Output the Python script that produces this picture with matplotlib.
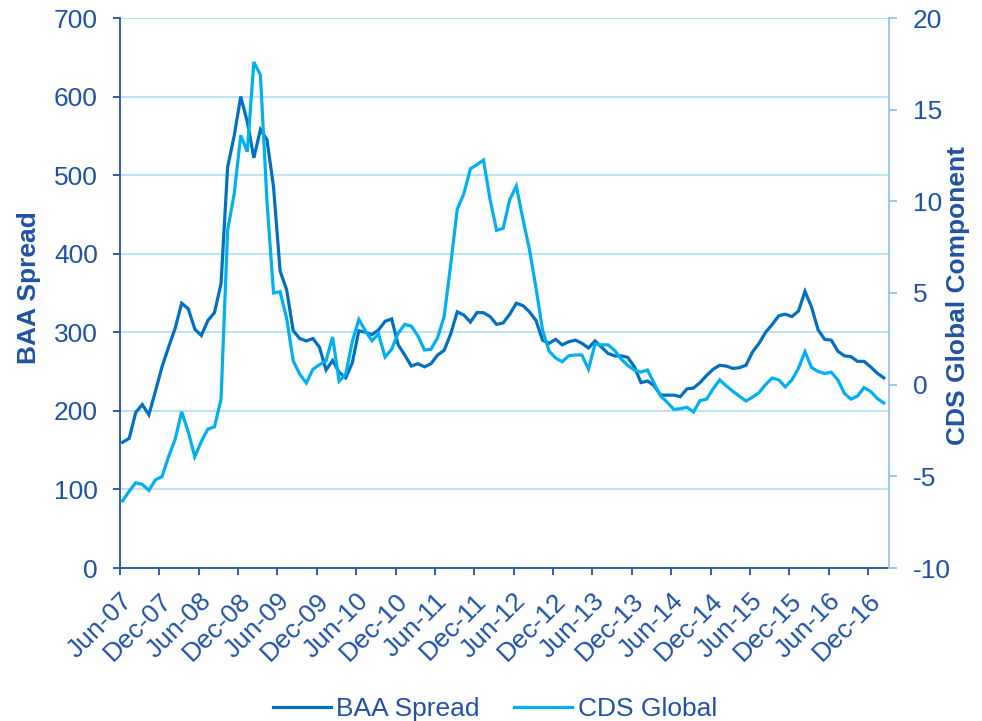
import matplotlib
matplotlib.use('Agg')
import matplotlib.pyplot as plt
import numpy as np

# ---- data (monthly, Jun-07 .. Feb-17) ----
tick_labels = ['Jun-07', 'Dec-07', 'Jun-08', 'Dec-08', 'Jun-09', 'Dec-09',
               'Jun-10', 'Dec-10', 'Jun-11', 'Dec-11', 'Jun-12', 'Dec-12',
               'Jun-13', 'Dec-13', 'Jun-14', 'Dec-14', 'Jun-15', 'Dec-15',
               'Jun-16', 'Dec-16']

baa_spread = [160, 165, 198, 208, 195, 225, 256, 281, 305, 337,
              330, 304, 296, 315, 325, 362, 510, 550, 600, 568,
              522, 558, 545, 485, 378, 354, 302, 292, 289, 292,
              281, 252, 264, 249, 242, 261, 302, 300, 297, 303,
              314, 317, 284, 271, 257, 260, 256, 260, 271, 277,
              298, 326, 322, 313, 325, 325, 320, 310, 312, 323,
              337, 334, 326, 315, 290, 286, 291, 284, 288, 290,
              286, 280, 289, 281, 273, 270, 270, 268, 256, 236,
              238, 232, 220, 220, 220, 218, 228, 229, 236, 245,
              253, 258, 257, 254, 255, 258, 275, 286, 300, 310,
              321, 323, 320, 327, 352, 332, 303, 291, 290, 276,
              270, 269, 263, 263, 256, 248, 242]

cds_global = [-6.34, -5.81, -5.35, -5.44, -5.77, -5.19, -5.02, -3.93, -2.99, -1.48,
              -2.57, -3.93, -3.09, -2.42, -2.30, -0.79, 8.42, 10.4, 13.6, 12.7,
              17.6, 16.9, 10.0, 5.0, 5.07, 3.61, 1.30, 0.57, 0.09, 0.84,
              1.09, 1.30, 2.60, 0.19, 0.57, 2.35, 3.56, 2.94, 2.39, 2.77,
              1.51, 1.93, 2.81, 3.29, 3.19, 2.66, 1.89, 1.93, 2.56, 3.71,
              6.54, 9.57, 10.41, 11.77, 12.0, 12.25, 10.10, 8.42, 8.53, 10.10,
              10.83, 9.05, 7.38, 5.28, 2.98, 1.83, 1.45, 1.25, 1.58, 1.62,
              1.62, 0.84, 2.22, 2.17, 2.17, 1.86, 1.39, 1.04, 0.80, 0.69,
              0.80, 0.08, -0.62, -0.96, -1.35, -1.31, -1.23, -1.49, -0.87, -0.79,
              -0.23, 0.26, -0.07, -0.36, -0.63, -0.89, -0.68, -0.43, 0.01, 0.36,
              0.26, -0.12, 0.26, 0.89, 1.80, 0.93, 0.72, 0.61, 0.68, 0.26,
              -0.47, -0.79, -0.62, -0.16, -0.37, -0.75, -1.0]

series_names = ['BAA Spread', 'CDS Global']
left_label = 'BAA Spread'
right_label = 'CDS Global Component'

# ---- style ----
plt.rcParams['font.family'] = ['Liberation Sans', 'DejaVu Sans']
plt.rcParams['axes.unicode_minus'] = False
TXT = '#2152A3'
DARK = '#0070C0'
LIGHT = '#00B0F0'
GRID = '#B5E2F6'
SPINE_R = '#9DC3E6'
FS = 19

months = np.arange(len(baa_spread))

fig = plt.figure(figsize=(9.82, 7.21), dpi=100)
ax = fig.add_axes([120/982, 1 - 568/721, 769/982, 550/721])
ax2 = ax.twinx()

l1, = ax.plot(months, baa_spread, color=DARK, lw=2.3, solid_joinstyle='miter')
l2, = ax2.plot(months, cds_global, color=LIGHT, lw=2.3, solid_joinstyle='miter')

ax.set_xlim(-0.4, 116.8)
ax.set_ylim(0, 700)
ax2.set_ylim(-10, 20)
ax.set_yticks(np.arange(0, 701, 100))
ax2.set_yticks(np.arange(-10, 21, 5))
ax.set_xticks(np.arange(len(tick_labels)) * 6 - 0.4)
ax.set_xticklabels(tick_labels)

ax.yaxis.grid(True, color=GRID, lw=1.3)
ax.set_axisbelow(True)

for s in ['top', 'right']:
    ax.spines[s].set_visible(False)
for s in ['top', 'left', 'bottom']:
    ax2.spines[s].set_visible(False)
ax.spines['left'].set_color(TXT)
ax.spines['bottom'].set_color(TXT)
ax.spines['left'].set_linewidth(1.3)
ax.spines['bottom'].set_linewidth(1.3)
ax2.spines['right'].set_color(SPINE_R)
ax2.spines['right'].set_linewidth(1.3)

ax.tick_params(axis='y', direction='out', length=5, width=1.3, color=TXT,
               labelcolor=TXT, labelsize=FS, pad=11)
ax.tick_params(axis='x', direction='out', length=5, width=1.3, color=TXT,
               labelcolor=TXT, labelsize=FS, pad=10)
ax2.tick_params(axis='y', direction='out', length=6, width=1.3, color=SPINE_R,
                labelcolor=TXT, labelsize=FS, pad=11)

for lab in ax.get_xticklabels():
    lab.set_rotation(45)
    lab.set_ha('right')
    lab.set_va('top')
    lab.set_rotation_mode('anchor')

ax.set_ylabel(left_label, fontsize=19, fontweight='bold', color=TXT)
ax.yaxis.set_label_coords(-0.103, 0.51)
ax2.set_ylabel(right_label, fontsize=19, fontweight='bold', color=TXT)
ax2.yaxis.set_label_coords(1.074, 0.496)

leg = fig.legend([l1, l2], series_names, loc='center', ncol=2,
                 bbox_to_anchor=(0.504, 0.017), frameon=False, fontsize=FS,
                 handlelength=2.2, handletextpad=0.2, columnspacing=1.3)
for t in leg.get_texts():
    t.set_color(TXT)

fig.savefig('out.png', dpi=100)
